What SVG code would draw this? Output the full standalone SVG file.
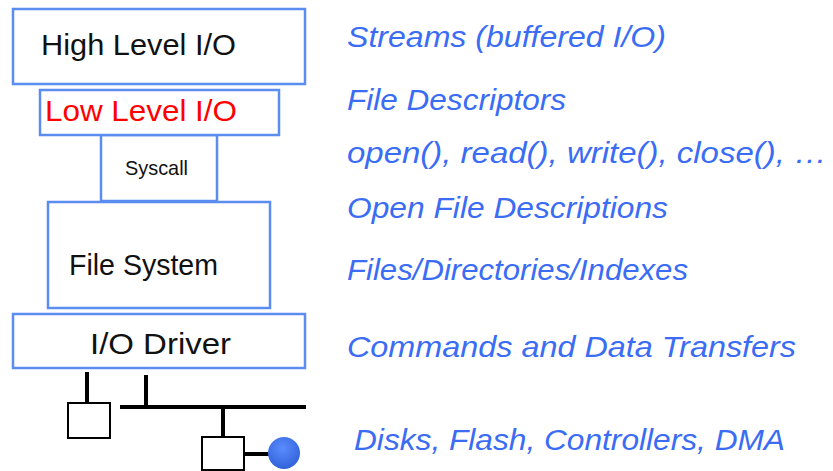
<svg xmlns="http://www.w3.org/2000/svg" width="833" height="471" viewBox="0 0 833 471">
<style>
.box{fill:#fff;stroke:#5B8CF0;stroke-width:2.5}
.lbl{font-family:"Liberation Sans",Arial,sans-serif;fill:#111}
.note{font-family:"Liberation Sans",Arial,sans-serif;font-style:italic;font-size:30px;fill:#3A6CF4}
.bus{stroke:#000;stroke-width:4;fill:none}
.dev{fill:#fff;stroke:#000;stroke-width:2}
</style>
<defs>
<radialGradient id="g" cx="0.45" cy="0.35" r="0.7">
<stop offset="0" stop-color="#5A8CFF"/>
<stop offset="1" stop-color="#2F5FD6"/>
</radialGradient>
</defs>
<rect width="833" height="471" fill="#fff"/>
<g id="high-level-io">
<rect class="box" x="13" y="9" width="292" height="75"/>
<text class="lbl" x="41" y="55" font-size="30" textLength="195" lengthAdjust="spacingAndGlyphs">High Level I/O</text>
</g>
<g id="syscall">
<rect class="box" x="101" y="135" width="116" height="66"/>
<text class="lbl" x="125" y="175" font-size="21" textLength="63" lengthAdjust="spacingAndGlyphs">Syscall</text>
</g>
<g id="low-level-io">
<rect class="box" x="40" y="90" width="239" height="45"/>
<text class="lbl" x="45" y="121" font-size="30" fill="#FF0000" style="fill:#FF0000" textLength="192" lengthAdjust="spacingAndGlyphs">Low Level I/O</text>
</g>
<g id="file-system">
<rect class="box" x="48" y="202" width="222" height="106"/>
<text class="lbl" x="69" y="275" font-size="30" textLength="149" lengthAdjust="spacingAndGlyphs">File System</text>
</g>
<g id="io-driver">
<rect class="box" x="13" y="314" width="292" height="54"/>
<text class="lbl" x="90" y="354" font-size="30" textLength="141" lengthAdjust="spacingAndGlyphs">I/O Driver</text>
</g>
<g id="connectors">
<line class="bus" x1="87" y1="372" x2="87" y2="403"/>
<line class="bus" x1="146" y1="375" x2="146" y2="407"/>
<line class="bus" x1="120" y1="407" x2="306" y2="407"/>
<line class="bus" x1="223" y1="407" x2="223" y2="437"/>
<line class="bus" x1="244" y1="454" x2="270" y2="454"/>
</g>
<g id="device-1">
<rect class="dev" x="68" y="403" width="42" height="35"/>
</g>
<g id="device-2">
<rect class="dev" x="202" y="437" width="42" height="33"/>
</g>
<g id="dma-dot">
<circle cx="284" cy="453" r="16" fill="url(#g)"/>
</g>
<g id="notes">
<text class="note" x="347" y="47" textLength="319" lengthAdjust="spacingAndGlyphs">Streams (buffered I/O)</text>
<text class="note" x="347" y="110" textLength="219" lengthAdjust="spacingAndGlyphs">File Descriptors</text>
<text class="note" x="347" y="163" textLength="480" lengthAdjust="spacingAndGlyphs">open(), read(), write(), close(), …</text>
<text class="note" x="347" y="218" textLength="321" lengthAdjust="spacingAndGlyphs">Open File Descriptions</text>
<text class="note" x="347" y="280" textLength="341" lengthAdjust="spacingAndGlyphs">Files/Directories/Indexes</text>
<text class="note" x="347" y="357" textLength="449" lengthAdjust="spacingAndGlyphs">Commands and Data Transfers</text>
<text class="note" x="354" y="450" textLength="431" lengthAdjust="spacingAndGlyphs">Disks, Flash, Controllers, DMA</text>
</g>
</svg>
